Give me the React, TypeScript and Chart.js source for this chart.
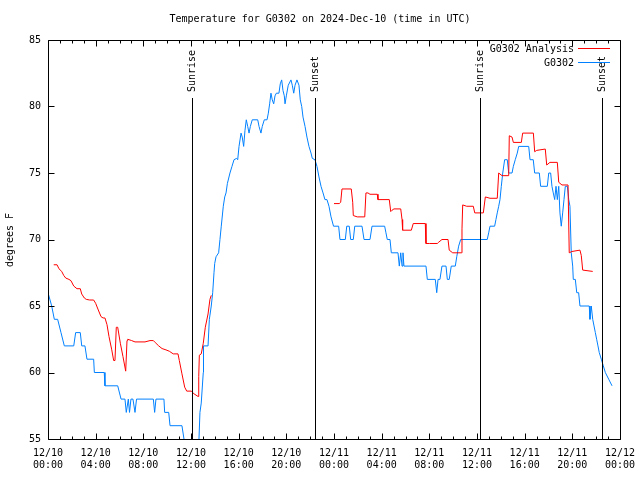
import React, { useEffect, useRef } from "react";
import { Chart, registerables } from "chart.js";

Chart.register(...registerables);

// Hours since 12/10 00:00 UTC and temperatures (°F)
const blueHours = [
  0, 0.31, 0.53, 0.81, 1.09, 1.37, 2.16, 2.32, 2.71, 2.83,
  3.10, 3.27, 3.83, 3.89, 4.72, 4.78, 5.85, 6.13, 6.46, 6.57,
  6.74, 6.84, 6.96, 7.13, 7.30, 7.43, 8.14, 8.84, 8.95, 9.06,
  9.73, 9.79, 10.13, 10.24, 11.24, 11.41, 11.92, 12.42, 12.67, 12.75,
  12.86, 13.03, 13.05, 13.43, 13.54, 13.70, 13.82, 13.93, 13.99, 14.10,
  14.32, 14.43, 14.54, 14.71, 14.83, 14.94, 15.05, 15.27, 15.44, 15.61,
  15.83, 15.92, 16.03, 16.20, 16.30, 16.42, 16.53, 16.64, 16.76, 16.87,
  16.98, 17.14, 17.60, 17.71, 17.87, 17.98, 18.15, 18.38, 18.49, 18.60,
  18.71, 18.82, 18.94, 19.05, 19.16, 19.38, 19.49, 19.61, 19.72, 19.83,
  19.89, 20.00, 20.16, 20.39, 20.50, 20.62, 20.73, 20.89, 21.06, 21.17,
  21.29, 21.40, 21.57, 21.73, 21.90, 22.07, 22.18, 22.40, 22.57, 22.74,
  22.91, 23.08, 23.24, 23.41, 23.58, 23.75, 23.96, 24.39, 24.50, 24.95,
  25.07, 25.28, 25.40, 25.62, 25.74, 26.35, 26.52, 27.02, 27.19, 28.25,
  28.36, 28.47, 28.70, 28.81, 29.37, 29.48, 29.60, 29.71, 29.79, 29.87,
  31.72, 31.83, 32.50, 32.62, 32.73, 32.89, 33.06, 33.40, 33.51, 33.67,
  33.84, 34.18, 34.30, 34.46, 34.63, 36.86, 36.98, 37.09, 37.48, 37.59,
  37.70, 37.82, 37.93, 38.04, 38.16, 38.32, 38.54, 38.66, 38.94, 39.05,
  39.21, 39.38, 39.50, 40.34, 40.45, 40.72, 40.84, 41.23, 41.34, 41.90,
  42.02, 42.18, 42.29, 42.40, 42.52, 42.63, 42.74, 42.86, 42.96, 43.07,
  43.19, 43.30, 43.41, 43.58, 43.70, 43.80, 43.91, 44.03, 44.08, 44.25,
  44.37, 44.53, 44.64, 45.42, 45.48, 45.59, 45.71, 45.82, 45.93, 46.04,
  46.15, 46.26, 46.43, 46.60, 46.77, 47.05, 47.33,
];
const blueTemps = [
  66, 65, 64, 64, 63, 62, 62, 63, 63, 62,
  62, 61, 61, 60, 60, 59, 59, 58, 58, 57,
  58, 57, 58, 58, 57, 58, 58, 58, 57, 58,
  58, 57, 57, 56, 56, 55, 54, 54, 55, 57,
  57.7, 60, 62, 62, 64, 65, 66, 67.5, 68.2, 68.7,
  69, 70, 71, 72.5, 73.2, 73.5, 74.2, 75, 75.5, 76,
  76.1, 76, 77, 78, 77.7, 77, 78.2, 79, 78.5, 78,
  78.5, 79, 79, 78.5, 78, 78.5, 79, 79, 79.5, 80.2,
  81, 80.5, 80.2, 80.8, 81, 81, 81.7, 82, 81.2, 80.8,
  80.2, 80.8, 81.6, 82, 81.6, 81, 81.6, 82, 81.6, 80.5,
  80, 79.2, 78.5, 77.7, 77, 76.5, 76.1, 76, 75.5, 74.7,
  74, 73.5, 73, 73, 72.5, 71.7, 71, 71, 70, 70,
  71, 71, 70, 70, 71, 71, 70, 70, 71, 71,
  70.5, 70, 70, 69, 69, 68, 69, 68, 69, 68,
  68, 67, 67, 66, 67, 67, 68, 68, 67, 67,
  68, 68, 68.7, 69.5, 70, 70, 70.5, 71, 71, 71.5,
  72, 72.5, 73, 74, 75, 76, 76, 75, 75, 75.5,
  76, 76.5, 77, 77, 76, 76, 75, 75, 74, 74,
  75, 75, 74, 73.5, 73, 74, 73, 74, 72, 71,
  72, 73, 74, 74, 73, 72.5, 69, 68, 67, 67,
  66, 66, 65, 65, 64, 65, 64, 63.5, 63, 62.5,
  62, 61.5, 61, 60.5, 60, 59.5, 59,
];

const redHours = [
  0.48, 0.76, 0.92, 1.15, 1.32, 1.49, 1.76, 1.93, 2.16, 2.43,
  2.71, 2.83, 3.05, 3.21, 3.50, 3.83, 4.00, 4.22, 4.45, 4.62,
  4.78, 4.95, 5.12, 5.35, 5.51, 5.62, 5.73, 5.85, 6.07, 6.29,
  6.52, 6.63, 6.69, 7.02, 7.30, 8.14, 8.56, 8.84, 9.00, 9.29,
  9.57, 9.90, 10.18, 10.51, 10.91, 11.02, 11.24, 11.47, 11.64, 12.02,
  12.25, 12.59, 12.65, 12.70, 12.86, 13.03, 13.20, 13.43, 13.59, 13.70,
  18.0,
  24.00, 24.44, 24.56, 24.67, 25.45, 25.57, 25.62, 25.95, 26.58, 26.68,
  26.85, 27.02, 27.63, 27.69, 28.64, 28.76, 28.87, 29.03, 29.60, 29.71,
  29.76, 30.49, 30.65, 31.66, 31.72, 32.00, 32.67, 32.79, 33.06, 33.57,
  33.67, 33.96, 34.68, 34.74, 34.80, 35.13, 35.69, 35.81, 36.53, 36.70,
  37.09, 37.70, 37.82, 38.10, 38.66, 38.71, 38.94, 39.05, 39.72, 39.83,
  40.73, 40.84, 41.01, 41.73, 41.85, 42.12, 42.74, 42.86, 43.13, 43.64,
  43.74, 43.97, 44.64, 44.75, 44.87, 45.71,
];
const redTemps = [
  68.1, 68.1, 67.8, 67.6, 67.3, 67.1, 67, 66.9, 66.5, 66.3,
  66.3, 65.9, 65.6, 65.5, 65.45, 65.45, 65.2, 64.7, 64.2, 64.1,
  64.1, 63.6, 62.7, 61.7, 60.9, 60.9, 63.4, 63.4, 62.2, 61.2,
  60.1, 62.4, 62.5, 62.4, 62.3, 62.3, 62.4, 62.4, 62.25, 62,
  61.8, 61.7, 61.6, 61.4, 61.4, 60.9, 59.9, 58.9, 58.6, 58.6,
  58.4, 58.2, 59.7, 61.3, 61.4, 62.2, 63.4, 64.4, 65.5, 65.8,
  null,
  72.7, 72.7, 72.8, 73.8, 73.8, 72.8, 71.8, 71.7, 71.7, 73.5,
  73.5, 73.4, 73.4, 73, 73, 72.1, 72.2, 72.3, 72.3, 71.5,
  70.7, 70.7, 71.2, 71.2, 69.7, 69.7, 69.7, 69.8, 70, 70,
  69.2, 69, 69, 70.8, 72.6, 72.5, 72.5, 72, 72, 73.2,
  73.1, 73.1, 75, 74.8, 74.8, 77.8, 77.7, 77.3, 77.3, 78,
  78, 76.6, 76.7, 76.8, 75.6, 75.8, 75.8, 74.3, 74.1, 74.1,
  69, 69.1, 69.2, 68.8, 67.7, 67.6,
];

const xTickHours = [0, 4, 8, 12, 16, 20, 24, 28, 32, 36, 40, 44, 48];
const xTickDates = ["12/10", "12/10", "12/10", "12/10", "12/10", "12/10", "12/11", "12/11", "12/11", "12/11", "12/11", "12/11", "12/12"];
const xTickTimes = ["00:00", "04:00", "08:00", "12:00", "16:00", "20:00", "00:00", "04:00", "08:00", "12:00", "16:00", "20:00", "00:00"];
const yTickValues = [55, 60, 65, 70, 75, 80, 85];

const sunHours = [12.08, 22.4, 36.24, 46.48];
const sunLabels = ["Sunrise", "Sunset", "Sunrise", "Sunset"];

const seriesNames = ["G0302 Analysis", "G0302"];
const seriesColors = ["#ff0000", "#0080ff"];

const titleText = "Temperature for G0302 on 2024-Dec-10 (time in UTC)";
const yTitleText = "degrees F";

const FONT = "10px 'DejaVu Sans Mono', monospace";

const decorPlugin = {
  id: "decor",
  afterDraw(chart: any) {
    const { ctx, chartArea } = chart;
    const xs = chart.scales.x;
    const ys = chart.scales.y;
    const L = Math.round(chartArea.left) + 0.5;
    const R = Math.round(chartArea.right) + 0.5;
    const T = Math.round(chartArea.top) + 0.5;
    const B = Math.round(chartArea.bottom) + 0.5;
    ctx.save();
    ctx.strokeStyle = "#000";
    ctx.lineWidth = 1;
    ctx.beginPath();
    ctx.rect(L, T, R - L, B - T);
    // x ticks (top & bottom), minor every hour
    for (let h = 0; h <= 48; h++) {
      const x = Math.round(xs.getPixelForValue(h)) + 0.5;
      const len = h % 4 === 0 ? 6 : 3;
      ctx.moveTo(x, B);
      ctx.lineTo(x, B - len);
      ctx.moveTo(x, T);
      ctx.lineTo(x, T + len);
    }
    yTickValues.forEach((v) => {
      const y = Math.round(ys.getPixelForValue(v)) + 0.5;
      ctx.moveTo(L, y);
      ctx.lineTo(L + 6, y);
      ctx.moveTo(R, y);
      ctx.lineTo(R - 6, y);
    });
    ctx.stroke();

    // sunrise / sunset lines
    ctx.font = FONT;
    ctx.fillStyle = "#000";
    sunHours.forEach((h, i) => {
      const x = Math.round(xs.getPixelForValue(h)) + 0.5;
      ctx.beginPath();
      ctx.moveTo(x, 98);
      ctx.lineTo(x, B);
      ctx.stroke();
      ctx.save();
      ctx.translate(x, 92);
      ctx.rotate(-Math.PI / 2);
      ctx.textAlign = "left";
      ctx.textBaseline = "middle";
      ctx.fillText(sunLabels[i], 0, 0);
      ctx.restore();
    });

    // legend
    seriesNames.forEach((name, i) => {
      const y = 49 + i * 14;
      ctx.textAlign = "right";
      ctx.textBaseline = "middle";
      ctx.fillStyle = "#000";
      ctx.fillText(name, 574, y);
      ctx.strokeStyle = seriesColors[i];
      ctx.beginPath();
      ctx.moveTo(578, Math.round(y) - 0.5);
      ctx.lineTo(610, Math.round(y) - 0.5);
      ctx.stroke();
    });

    // title
    ctx.fillStyle = "#000";
    ctx.textAlign = "center";
    ctx.textBaseline = "middle";
    ctx.fillText(titleText, 320, 19);

    // y title
    ctx.save();
    ctx.translate(10, 240);
    ctx.rotate(-Math.PI / 2);
    ctx.textAlign = "center";
    ctx.textBaseline = "middle";
    ctx.fillText(yTitleText, 0, 0);
    ctx.restore();
    ctx.restore();
  },
};

export default function App() {
  const ref = useRef<HTMLCanvasElement | null>(null);
  useEffect(() => {
    document.body.style.margin = "0";
    const canvas = ref.current;
    if (!canvas) return;
    const blueData = blueHours.map((h, i) => ({ x: h, y: blueTemps[i] }));
    const redData = redHours.map((h, i) => ({ x: h, y: redTemps[i] }));
    const chart = new Chart(canvas, {
      type: "line",
      data: {
        datasets: [
          {
            label: seriesNames[0],
            data: redData as any,
            borderColor: seriesColors[0],
            borderWidth: 1,
            pointRadius: 0,
            tension: 0,
            spanGaps: false,
            fill: false,
          },
          {
            label: seriesNames[1],
            data: blueData as any,
            borderColor: seriesColors[1],
            borderWidth: 1,
            pointRadius: 0,
            tension: 0,
            fill: false,
          },
        ],
      },
      options: {
        responsive: false,
        animation: false,
        events: [],
        layout: { padding: { top: 40, right: 20, left: 0, bottom: 0 } },
        plugins: {
          legend: { display: false },
          tooltip: { enabled: false },
          title: { display: false },
        },
        scales: {
          x: {
            type: "linear",
            min: 0,
            max: 48,
            afterBuildTicks: (s: any) => {
              s.ticks = xTickHours.map((v) => ({ value: v }));
            },
            afterFit: (s: any) => {
              s.height = 41;
              s.paddingLeft = 0;
              s.paddingRight = 0;
            },
            grid: { display: false, drawTicks: false },
            border: { display: false },
            ticks: {
              autoSkip: false,
              maxRotation: 0,
              minRotation: 0,
              padding: 8,
              color: "#000",
              font: { family: "'DejaVu Sans Mono', monospace", size: 10, lineHeight: 1.2 },
              callback: (v: any) => {
                const i = xTickHours.indexOf(Number(v));
                return i >= 0 ? [xTickDates[i], xTickTimes[i]] : "";
              },
            },
          },
          y: {
            type: "linear",
            min: 55,
            max: 85,
            afterBuildTicks: (s: any) => {
              s.ticks = yTickValues.map((v) => ({ value: v }));
            },
            afterFit: (s: any) => {
              s.width = 48;
              s.paddingTop = 0;
              s.paddingBottom = 0;
            },
            grid: { display: false, drawTicks: false },
            border: { display: false },
            ticks: {
              padding: 7,
              color: "#000",
              font: { family: "'DejaVu Sans Mono', monospace", size: 10 },
            },
          },
        },
      },
      plugins: [decorPlugin],
    });
    return () => chart.destroy();
  }, []);
  return <canvas ref={ref} width={640} height={480} style={{ display: "block" }} />;
}
